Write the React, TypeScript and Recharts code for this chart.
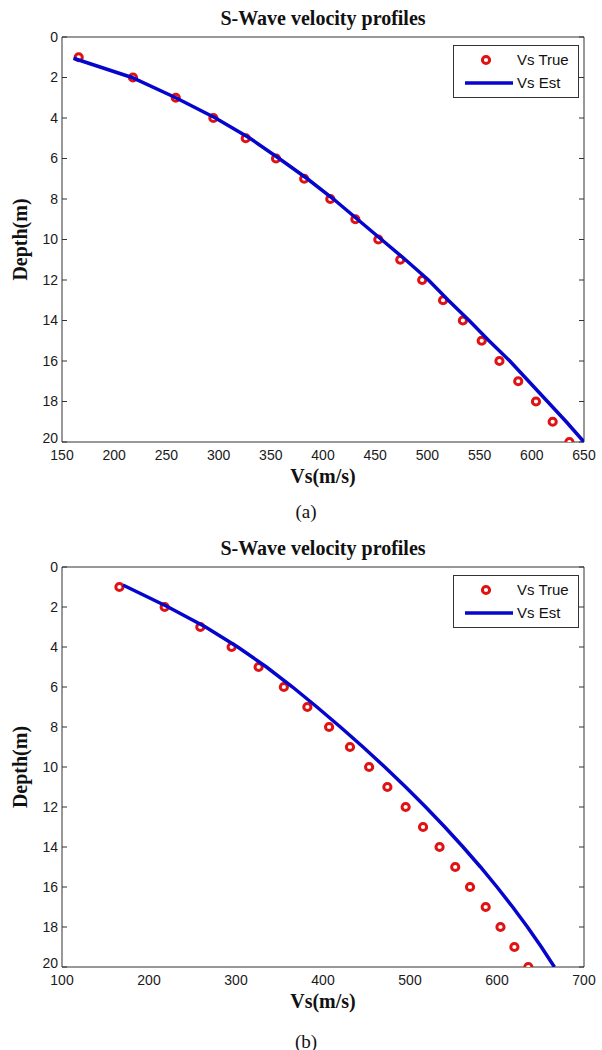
import React from 'react';
import { ScatterChart, Scatter, XAxis, YAxis, Legend, Label } from 'recharts';

// ---- data ----
const depthTrue = [1, 2, 3, 4, 5, 6, 7, 8, 9, 10, 11, 12, 13, 14, 15, 16, 17, 18, 19, 20];
const vsTrue = [166, 218, 259, 295, 326, 355, 382, 407, 431, 453, 474, 495, 515, 534, 552, 569, 587, 604, 620, 636];

const depthEstA = [1.05, 2, 3, 4, 5, 6, 7, 8, 9, 10, 11, 12, 13, 14, 15, 16, 17, 18, 19, 20];
const vsEstA = [161, 217, 259, 297, 330, 358, 385, 410, 433, 456, 479, 501, 520, 540, 559, 579, 597, 615, 633, 650];

const depthEstB = [0.9, 2, 3, 4, 5, 6, 7, 8, 9, 10, 11, 12, 13, 14, 15, 16, 17, 18, 19, 20];
const vsEstB = [170, 222, 265, 302, 335, 365, 393, 420, 446, 471, 495, 518, 540, 561, 581, 600, 618, 635, 651, 666];

const xTicksA = [150, 200, 250, 300, 350, 400, 450, 500, 550, 600, 650];
const xTicksB = [100, 200, 300, 400, 500, 600, 700];
const yTicks = [0, 2, 4, 6, 8, 10, 12, 14, 16, 18, 20];

const titleText = 'S-Wave velocity profiles';
const xLabel = 'Vs(m/s)';
const yLabel = 'Depth(m)';
const legendTrue = 'Vs True';
const legendEst = 'Vs Est';

const toPoints = (vs: number[], d: number[]) => vs.map((v, i) => ({ vs: v, depth: d[i] }));

// ---- style ----
const RED = '#e01212';
const BLUE = '#0505cc';
const AXIS = '#333';
const SANS = '"Liberation Sans", Arial, sans-serif';
const SERIF = '"Liberation Serif", "Times New Roman", serif';

const RingShape = (props: any) => (
  <circle cx={props.cx} cy={props.cy} r={3.6} fill="#fff" stroke={RED} strokeWidth={3} />
);
const NoShape = () => <g />;

const YTick = (props: any) => {
  const { x, y, payload } = props;
  const last = payload.value === yTicks[yTicks.length - 1];
  return (
    <text
      x={x}
      y={y + (last ? -4 : 0)}
      dy="0.355em"
      textAnchor="end"
      fill="#1a1a1a"
      fontSize={14}
      fontFamily={SANS}
    >
      {payload.value}
    </text>
  );
};

const LegendBox = () => (
  <div
    style={{
      width: 126,
      height: 53,
      border: `1px solid ${AXIS}`,
      background: '#fff',
      boxSizing: 'border-box',
      position: 'relative',
    }}
  >
    <svg width={124} height={51} style={{ position: 'absolute', left: 0, top: 0 }}>
      <circle cx={32} cy={14} r={3.6} fill="#fff" stroke={RED} strokeWidth={3} />
      <line x1={11} x2={59} y1={37} y2={37} stroke={BLUE} strokeWidth={3.5} />
      <text x={63} y={19} fontFamily={SANS} fontSize={15} fill="#111">
        {legendTrue}
      </text>
      <text x={63} y={42} fontFamily={SANS} fontSize={15} fill="#111">
        {legendEst}
      </text>
    </svg>
  </div>
);

type PanelProps = {
  top: number;
  height: number;
  plotBottom: number;
  xDomain: [number, number];
  xTicks: number[];
  est: { vs: number; depth: number }[];
  caption: string;
};

const Panel = ({ top, height, plotBottom, xDomain, xTicks, est, caption }: PanelProps) => {
  const trueData = toPoints(vsTrue, depthTrue);
  const tickStyle = { fill: '#1a1a1a', fontSize: 14, fontFamily: SANS };
  const common = { type: 'number' as const, allowDataOverflow: true };
  return (
    <div style={{ position: 'absolute', left: 0, top, width: 602, height }}>
      <div
        style={{
          position: 'absolute',
          left: 62,
          width: 522,
          top: 6,
          height: 24,
          lineHeight: '24px',
          textAlign: 'center',
          fontFamily: SERIF,
          fontWeight: 'bold',
          fontSize: 20,
          color: '#111',
        }}
      >
        {titleText}
      </div>
      <ScatterChart
        width={602}
        height={height}
        margin={{ top: 37, right: 18, bottom: height - plotBottom - 30, left: 0 }}
      >
        <XAxis
          xAxisId="b"
          {...common}
          dataKey="vs"
          domain={xDomain}
          ticks={xTicks}
          interval={0}
          height={30}
          tickLine={false}
          tickSize={0}
          tickMargin={8}
          axisLine={{ stroke: AXIS }}
          tick={tickStyle}
        >
          <Label
            value={xLabel}
            position="bottom"
            offset={-3}
            style={{ fontFamily: SERIF, fontWeight: 'bold', fontSize: 20, fill: '#111' }}
          />
        </XAxis>
        <XAxis
          xAxisId="bm"
          {...common}
          orientation="bottom"
          mirror
          domain={xDomain}
          ticks={xTicks}
          interval={0}
          height={1}
          tickSize={5}
          axisLine={false}
          tickLine={{ stroke: AXIS }}
          tickFormatter={() => ''}
        />
        <XAxis
          xAxisId="t"
          {...common}
          orientation="top"
          mirror
          domain={xDomain}
          ticks={xTicks}
          interval={0}
          height={1}
          tickSize={5}
          axisLine={{ stroke: AXIS }}
          tickLine={{ stroke: AXIS }}
          tickFormatter={() => ''}
        />
        <YAxis
          yAxisId="l"
          {...common}
          dataKey="depth"
          domain={[0, 20]}
          ticks={yTicks}
          interval={0}
          reversed
          width={62}
          tickLine={false}
          tickSize={0}
          tickMargin={4}
          axisLine={{ stroke: AXIS }}
          tick={<YTick />}
        >
          <Label
            value={yLabel}
            angle={-90}
            position="insideLeft"
            offset={20}
            style={{ fontFamily: SERIF, fontWeight: 'bold', fontSize: 20, fill: '#111', textAnchor: 'middle' }}
          />
        </YAxis>
        <YAxis
          yAxisId="lm"
          {...common}
          orientation="left"
          mirror
          domain={[0, 20]}
          ticks={yTicks}
          interval={0}
          reversed
          width={1}
          tickSize={5}
          axisLine={false}
          tickLine={{ stroke: AXIS }}
          tickFormatter={() => ''}
        />
        <YAxis
          yAxisId="r"
          {...common}
          orientation="right"
          mirror
          domain={[0, 20]}
          ticks={yTicks}
          interval={0}
          reversed
          width={1}
          tickSize={5}
          axisLine={{ stroke: AXIS }}
          tickLine={{ stroke: AXIS }}
          tickFormatter={() => ''}
        />
        <Scatter
          name={legendTrue}
          xAxisId="b"
          yAxisId="l"
          data={trueData}
          shape={RingShape}
          isAnimationActive={false}
        />
        <Scatter
          name={legendEst}
          xAxisId="b"
          yAxisId="l"
          data={est}
          shape={NoShape}
          line={{ stroke: BLUE, strokeWidth: 3.5 }}
          lineJointType="linear"
          isAnimationActive={false}
        />
        <Legend
          layout="vertical"
          align="center"
          verticalAlign="middle"
          content={() => <LegendBox />}
          wrapperStyle={{ left: 453, top: 45, width: 126, height: 53 }}
        />
      </ScatterChart>
      <div
        style={{
          position: 'absolute',
          left: 0,
          width: 612,
          top: 500,
          height: 24,
          lineHeight: '24px',
          textAlign: 'center',
          fontFamily: SERIF,
          fontSize: 19,
          color: '#111',
        }}
      >
        {caption}
      </div>
    </div>
  );
};

export default function App() {
  return (
    <div style={{ position: 'absolute', left: 0, top: 0, width: 602, height: 1050, background: '#fff' }}>
      <Panel
        top={0}
        height={530}
        plotBottom={442}
        xDomain={[150, 650]}
        xTicks={xTicksA}
        est={toPoints(vsEstA, depthEstA)}
        caption="(a)"
      />
      <Panel
        top={530}
        height={520}
        plotBottom={437}
        xDomain={[100, 700]}
        xTicks={xTicksB}
        est={toPoints(vsEstB, depthEstB)}
        caption="(b)"
      />
    </div>
  );
}
